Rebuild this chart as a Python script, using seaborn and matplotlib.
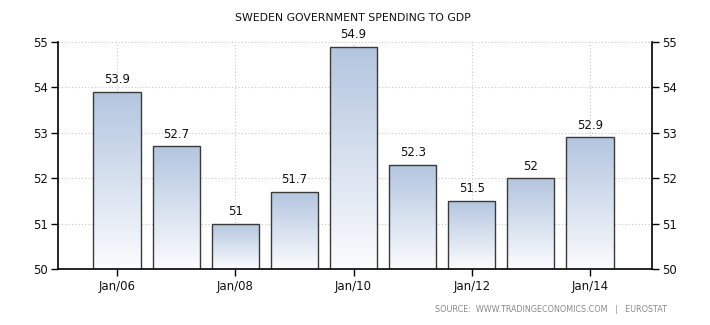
import numpy as np
import pandas as pd
import matplotlib
matplotlib.use("Agg")
import matplotlib.pyplot as plt
import seaborn as sns
from matplotlib.colors import LinearSegmentedColormap

years = ["2006", "2007", "2008", "2009", "2010", "2011", "2012", "2013", "2014"]
values = [53.9, 52.7, 51.0, 51.7, 54.9, 52.3, 51.5, 52.0, 52.9]
value_labels = ["53.9", "52.7", "51", "51.7", "54.9", "52.3", "51.5", "52", "52.9"]
tick_labels = ["Jan/06", "Jan/08", "Jan/10", "Jan/12", "Jan/14"]
yticks = [50, 51, 52, 53, 54, 55]

sns.set_style("white")
plt.rcParams['font.family'] = ['DejaVu Sans']

df = pd.DataFrame({"year": years, "value": values})

fig = plt.figure(figsize=(7.1, 3.25), dpi=100)
ax = fig.add_axes([58/710, 56/325, (652-58)/710, (269-42)/325])

sns.barplot(data=df, x="year", y="value", order=years, ax=ax,
            color="white", edgecolor="#3a3a3a", linewidth=1.0, width=0.8, zorder=3)

ax.set_ylim(50, 55)
ax.set_xlim(-1.0, 9.05)

# gradient fill
cmap = LinearSegmentedColormap.from_list("g", ["#fbfcfe", "#b3c5df"])
grad = np.linspace(0, 1, 256).reshape(-1, 1)
for p in list(ax.patches):
    p.set_facecolor("none")
    x0, y0 = p.get_x(), p.get_y()
    w, h = p.get_width(), p.get_height()
    top = y0 + h
    im = ax.imshow(grad, extent=[x0, x0 + w, 50, top], origin="lower",
                   cmap=cmap, aspect="auto", zorder=2.5, interpolation="bicubic")
    im.set_clip_path(p)

ax.set_xlim(-1.0, 9.05)
ax.set_ylim(50, 55)

for c in ax.containers:
    ax.bar_label(c, labels=value_labels, padding=4, fontsize=8.5, color="#111111")

ax.set_xticks([0, 2, 4, 6, 8])
ax.set_xticklabels(tick_labels)
ax.set_yticks(yticks)
ax.set_xlabel("")
ax.set_ylabel("")

ax.grid(True, color="#c8c8c8", linestyle=(0, (1, 2)), linewidth=0.8, zorder=0)
ax.set_axisbelow(True)

for s in ["left", "right", "bottom"]:
    ax.spines[s].set_visible(True)
    ax.spines[s].set_color("black")
    ax.spines[s].set_linewidth(1.2)
    ax.spines[s].set_zorder(5)
ax.spines["top"].set_visible(False)

ax.tick_params(axis="both", which="both", direction="out", length=5, width=1,
               colors="black", labelsize=8.5, labelcolor="#111111")
ax.tick_params(axis="y", left=True, right=True, labelleft=True, labelright=True, pad=2)
ax.tick_params(axis="x", bottom=True, pad=3)

fig.text(353/710, 1 - 18/325, "SWEDEN GOVERNMENT SPENDING TO GDP", ha="center", va="center",
         fontsize=7.8, color="#111111")
fig.text(667/710, 1 - 310/325, "SOURCE:  WWW.TRADINGECONOMICS.COM   |   EUROSTAT",
         ha="right", va="center", fontsize=5.8, color="#8a8a8a")

fig.savefig("out.png", dpi=100)
